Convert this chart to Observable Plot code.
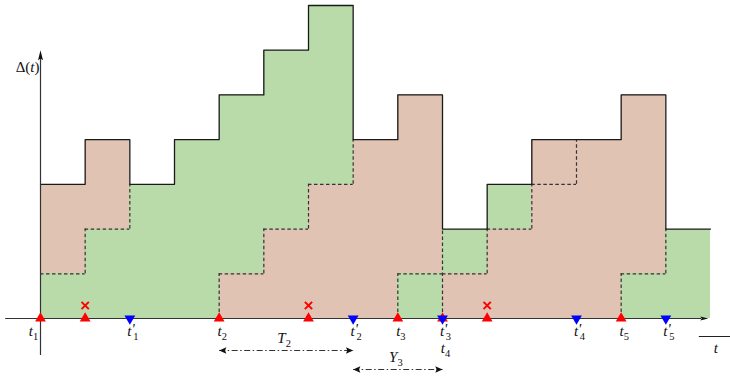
<!DOCTYPE html>
<html><head><meta charset="utf-8">
<script src="https://cdn.jsdelivr.net/npm/d3@7"></script>
<script src="https://cdn.jsdelivr.net/npm/@observablehq/plot@0.6"></script>
<style>
html,body{margin:0;padding:0;background:#fff;}
#chart svg{display:block;overflow:visible}
#chart svg text{font-family:"Liberation Serif","DejaVu Serif","Times New Roman",serif !important;}
</style>
</head><body><div id="chart"></div>
<script>
// ---- data (slot k spans t = k .. k+1) ----
const ageTop      = [3,4,3,4,5,6,7,4,5,2,3,4,4,5,2];          // Δ(t) per slot
const lowerHeight = [1,2,3,4,1,2,3,4,1,1,2,3,4,1,2];          // height of the lower (newest) band
const lowerUpdate = [1,1,1,1,2,2,2,2,3,4,4,4,4,5,5];          // update owning the lower band
const upperUpdate = [0,0,null,null,1,1,1,null,2,3,3,null,null,4,null]; // update owning the upper band
const genTimes  = [0,4,8,9,13];   // t1..t5  (red ▲)
const dropTimes = [1,6,10];       // generated & discarded (red ▲ with ×)
const delTimes  = [2,7,9,12,14];  // t'1..t'5 (blue ▼)
const intervals = [
  {name: "T", n: 2, from: genTimes[1], to: delTimes[1]},
  {name: "Y", n: 3, from: delTimes[1], to: delTimes[2]}
];

// ---- derived geometry ----
const GREEN = "#b9dba9", BROWN = "#e0c3b3";
const FONT = "Liberation Serif";
const nSlots = ageTop.length;
const bands = [];
for (let k = 0; k < nSlots; k++) {
  bands.push({x1: k, x2: k + 1, y1: 0, y2: lowerHeight[k], upd: lowerUpdate[k]});
  if (ageTop[k] > lowerHeight[k]) bands.push({x1: k, x2: k + 1, y1: lowerHeight[k], y2: ageTop[k], upd: upperUpdate[k]});
}
const owner = (k, j) => (j < lowerHeight[k] ? lowerUpdate[k] : upperUpdate[k]);
const hDash = bands.filter(b => b.y1 > 0).map(b => ({x1: b.x1, x2: b.x2, y: b.y1}));
const vDash = [];
for (let k = 1; k < nSlots; k++) {
  const m = Math.min(ageTop[k - 1], ageTop[k]);
  for (let j = 0; j < m; j++) {
    if (owner(k - 1, j) !== owner(k, j)) {
      const last = vDash[vDash.length - 1];
      if (last && last.x === k && last.y2 === j) last.y2 = j + 1;
      else vDash.push({x: k, y1: j, y2: j + 1});
    }
  }
}
const outline = ageTop.map((v, k) => ({x: k, y: v})).concat([{x: nSlots, y: ageTop[nSlots - 1]}]);

const labels = [];
genTimes.forEach((t, i) => labels.push({x: t, n: i + 1, prime: false, row: delTimes.includes(t) ? 1 : 0}));
delTimes.forEach((t, i) => labels.push({x: t, n: i + 1, prime: true, row: 0}));

// arrow-head symbol with its tip at the anchor, pointing up
const arrowSym = (len, half) => ({
  draw(ctx, size) {
    const r = Math.sqrt(size / Math.PI);
    ctx.moveTo(0, 0);
    ctx.lineTo(-half * r, len * r);
    ctx.lineTo(0, len * r * 0.82);
    ctx.lineTo(half * r, len * r);
    ctx.closePath();
  }
});
const narrow = arrowSym(2, 0.5), wide = arrowSym(2, 0.9);

const dashStyle = {stroke: "#333", strokeWidth: 1.2, strokeDasharray: "3.5,2.5"};
const code = (base, prime, sub) => `${base}|${prime ? "p" : ""}|${sub}`;

function labelMark(data, dx, row) {
  return Plot.text(data, {x: "x", y: 0, text: d => code("t", d.prime, d.n), textAnchor: "middle",
    dx, dy: 12.2 + row * 17, fontSize: 15, fontFamily: FONT, fill: "#111"});
}

const marks = [
  Plot.rect(bands, {x1: "x1", x2: "x2", y1: "y1", y2: "y2", fill: d => (d.upd % 2 ? "odd" : "even"), shapeRendering: "crispEdges"}),
  Plot.ruleY(hDash, {x1: "x1", x2: "x2", y: "y", ...dashStyle}),
  Plot.ruleX(vDash, {x: "x", y1: "y1", y2: "y2", ...dashStyle}),
  Plot.line(outline, {x: "x", y: "y", curve: "step-after", stroke: "#1a1a1a", strokeWidth: 1.3}),
  // axes
  Plot.ruleY([0], {x1: -0.78, x2: 14.8, stroke: "#333", strokeWidth: 1.2}),
  Plot.ruleX([0], {y1: -0.83, y2: 5.85, stroke: "#333", strokeWidth: 1.2}),
  Plot.dot([0], {x: 14.95, y: 0, rotate: 90, symbol: narrow, r: 4, fill: "#111"}),
  Plot.dot([0], {x: 0, y: 6, symbol: narrow, r: 5, fill: "#111"}),
  // events
  Plot.dot(genTimes.concat(dropTimes), {x: d => d, y: 0, symbol: "triangle", r: 4, fill: "#ff0000"}),
  Plot.dot(dropTimes, {x: d => d, y: 0, dy: -13, symbol: "times", r: 3.4, stroke: "#ff0000", strokeWidth: 2}),
  Plot.dot(delTimes, {x: d => d, y: 0, symbol: "triangle", rotate: 180, r: 4, fill: "#0000ff"}),
  // tick labels
  labelMark(labels.filter(d => d.x === 0), -7, 0),
  labelMark(labels.filter(d => d.x !== 0 && d.row === 0), 3, 0),
  labelMark(labels.filter(d => d.row === 1), 3, 1),
  // interval arrows
  ...intervals.flatMap((iv, r) => [
    Plot.link([iv], {x1: "from", x2: "to", y1: 0, y2: 0, dy: 32 + 19 * r, stroke: "#333", strokeWidth: 1.1, strokeDasharray: "6,2.5,1.5,2.5"}),
    Plot.dot([iv], {x: "from", y: 0, dy: 32 + 19 * r, rotate: -90, symbol: wide, r: 3.6, fill: "#111"}),
    Plot.dot([iv], {x: "to", y: 0, dy: 32 + 19 * r, rotate: 90, symbol: wide, r: 3.6, fill: "#111"}),
    Plot.text([iv], {x: d => (d.from + d.to) / 2, y: 0, text: d => code(d.name, false, d.n), textAnchor: "middle",
      dx: -2, dy: 20 + 19 * r, fontSize: 15, fontFamily: FONT, fill: "#111"})
  ]),
  // axis titles
  Plot.text(["Δ(t)"], {x: 0, y: 6, dx: -1, dy: 17, textAnchor: "end", fontSize: 15, fontFamily: FONT, fill: "#111"}),
  Plot.text(["t"], {x: 15.12, y: 0, dy: 30, fontSize: 15, fontStyle: "italic", fontFamily: FONT, fill: "#111"}),
  Plot.ruleY([0], {x1: 14.75, x2: 15.5, dy: 18, stroke: "#222", strokeWidth: 1})
];

const plot = Plot.plot({
  width: 730, height: 377,
  marginLeft: 40, marginRight: 20, marginTop: 5, marginBottom: 59,
  x: {domain: [0, 15], axis: null},
  y: {domain: [0, 7], axis: null},
  color: {domain: ["odd", "even"], range: [GREEN, BROWN]},
  style: {background: "white", overflow: "visible"},
  marks
});
const svgEl = plot.tagName.toLowerCase() === "svg" ? plot : plot.querySelector("svg");
svgEl.querySelectorAll("text").forEach(node => {
  const s = node.textContent;
  const t = d3.select(node);
  if (s === "Δ(t)") {
    t.text(null);
    t.append("tspan").text("Δ(");
    t.append("tspan").attr("font-style", "italic").text("t");
    t.append("tspan").text(")");
  } else if (s.includes("|")) {
    const [base, prime, sub] = s.split("|");
    t.text(null);
    t.append("tspan").attr("font-style", "italic").text(base);
    if (prime) {
      t.append("tspan").attr("font-size", 15).attr("font-style", "italic").attr("dy", -2).text("'");
      t.append("tspan").attr("font-size", 10.5).attr("dx", -1.5).attr("dy", 6).text(sub);
    } else {
      t.append("tspan").attr("font-size", 10.5).attr("dy", 4).text(sub);
    }
  }
});
document.getElementById("chart").appendChild(plot);
</script>
</body></html>
